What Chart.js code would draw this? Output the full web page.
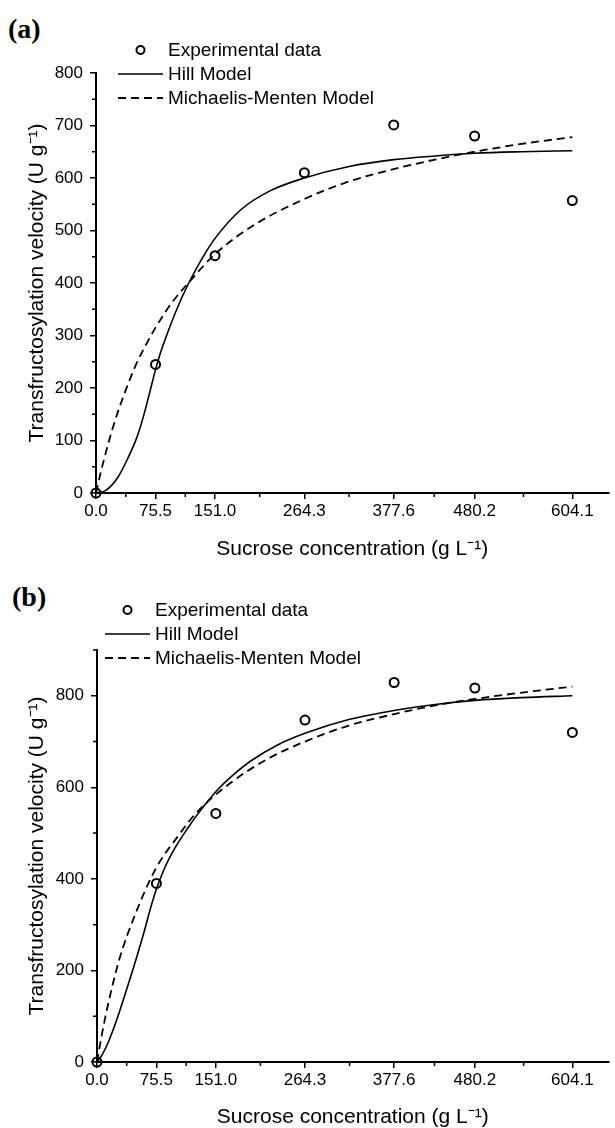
<!DOCTYPE html>
<html>
<head>
<meta charset="utf-8">
<script src="https://cdn.jsdelivr.net/npm/chart.js@4.4.1/dist/chart.umd.min.js"></script>
<style>
html,body{margin:0;padding:0;background:#fff;}
#wrap{position:relative;width:615px;height:1128px;overflow:hidden;}
canvas{position:absolute;left:0;}
#pa{top:0;}
#pb{top:564px;}
.tag{position:absolute;font:bold 28px "Liberation Serif","Times New Roman",serif;line-height:28px;color:#000;}
</style>
</head>
<body>
<div id="wrap">
  <div class="tag" style="left:8px;top:15px;">(a)</div>
  <canvas id="pa" width="615" height="564"></canvas>
  <div class="tag" style="left:12px;top:583px;">(b)</div>
  <canvas id="pb" width="615" height="564"></canvas>
</div>
<script>
// sucrose concentrations (g/L), also the x tick positions
const sucrose = [0, 75.5, 151.0, 264.3, 377.6, 480.2, 604.1];
const xTickLabels = ['0.0', '75.5', '151.0', '264.3', '377.6', '480.2', '604.1'];
const xMinor = [37.75, 113.25, 207.65, 320.95, 428.9, 542.15];

// panel (a)
const expA = [0, 245, 452, 610, 701, 680, 557];
const hillAx = [0, 12.5, 27, 40, 51.6, 60, 68.7, 75.5, 82, 90, 103, 117.6, 135, 151, 184, 220, 264.3, 321, 377.6, 430, 480.2, 540, 604.1];
const hillAy = [0, 5, 28, 65, 105, 145, 195, 235, 268, 302, 352, 400, 448, 485, 540, 575, 600, 622, 635, 642, 647, 650, 652];
const mmAx = [0, 6.6, 14.8, 25, 37, 50, 65, 75.5, 95, 120, 151, 200, 264.3, 320, 377.6, 430, 480.2, 540, 604.1];
const mmAy = [0, 43, 90, 142, 193, 242, 287, 315, 360, 405, 455, 510, 560, 593, 617, 635, 650, 665, 678];
const yTicksA = [0, 100, 200, 300, 400, 500, 600, 700, 800];
const yMinorA = [50, 150, 250, 350, 450, 550, 650, 750];

// panel (b)
const expB = [0, 390, 543, 747, 829, 817, 720];
const hillBx = [0, 7, 15, 25.6, 37, 48, 60, 68, 75.5, 85, 95, 102, 115, 125.6, 140, 155, 175, 195, 230, 264.3, 320, 377.6, 430, 480.2, 540, 604.1];
const hillBy = [0, 17, 46, 95, 155, 215, 285, 336, 378, 420, 455, 476, 510, 536, 568, 598, 630, 657, 693, 718, 748, 768, 781, 790, 796, 800];
const mmBx = [0, 6, 13.3, 28, 47.5, 75.5, 100.6, 125.6, 170, 220, 264.3, 320, 377.6, 430, 480.2, 540, 604.1];
const mmBy = [0, 58, 120, 222, 318, 425, 488, 543, 610, 665, 700, 735, 760, 779, 793, 807, 820];
const yTicksB = [0, 200, 400, 600, 800];
const yMinorB = [100, 300, 500, 700, 900];

Chart.defaults.font.family = '"Liberation Sans", Arial, sans-serif';
Chart.defaults.color = '#000';

const pts = (xs, ys) => xs.map((x, i) => ({x: x, y: ys[i]}));

// minor ticks + legend drawn on top of the library scales
const extras = {
  id: 'extras',
  afterDraw(chart, args, o) {
    const ctx = chart.ctx;
    const xs = chart.scales.x, ys = chart.scales.y;
    ctx.save();
    ctx.strokeStyle = '#000';
    ctx.lineWidth = 1.5;
    ctx.beginPath();
    o.xMinor.forEach(v => {
      const px = xs.getPixelForValue(v);
      ctx.moveTo(px, xs.top);
      ctx.lineTo(px, xs.top + 4);
    });
    o.yMinor.forEach(v => {
      const py = ys.getPixelForValue(v);
      ctx.moveTo(ys.right - 4, py);
      ctx.lineTo(ys.right, py);
    });
    ctx.stroke();

    ctx.font = '19px "Liberation Sans", Arial, sans-serif';
    ctx.fillStyle = '#000';
    ctx.textBaseline = 'middle';
    chart.data.datasets.forEach((ds, i) => {
      const y = o.legY + i * o.legGap;
      const x0 = o.legX, x1 = o.legX + 45;
      ctx.beginPath();
      if (ds.showLine === false) {
        ctx.lineWidth = 2;
        ctx.setLineDash([]);
        ctx.arc((x0 + x1) / 2, y, 4, 0, Math.PI * 2);
      } else {
        ctx.lineWidth = ds.borderWidth;
        ctx.setLineDash(ds.borderDash || []);
        ctx.moveTo(x0, y);
        ctx.lineTo(x1, y);
      }
      ctx.stroke();
      ctx.fillText(ds.label, x1 + 5, y + 1);
    });
    ctx.restore();
  }
};

function panel(id, p) {
  return new Chart(document.getElementById(id), {
    type: 'scatter',
    data: {
      datasets: [
        {
          label: 'Experimental data',
          data: pts(sucrose, p.exp),
          showLine: false,
          pointStyle: 'circle',
          pointRadius: 4.5,
          pointBorderWidth: 2,
          pointBorderColor: '#000',
          pointBackgroundColor: 'rgba(0,0,0,0)',
          clip: false
        },
        {
          label: 'Hill Model',
          data: pts(p.hillX, p.hillY),
          showLine: true,
          borderColor: '#000',
          borderWidth: 1.6,
          pointRadius: 0,
          cubicInterpolationMode: 'monotone',
          clip: false
        },
        {
          label: 'Michaelis-Menten Model',
          data: pts(p.mmX, p.mmY),
          showLine: true,
          borderColor: '#000',
          borderWidth: 1.8,
          borderDash: [8, 5],
          pointRadius: 0,
          cubicInterpolationMode: 'monotone',
          clip: false
        }
      ]
    },
    options: {
      responsive: false,
      animation: false,
      events: [],
      layout: {padding: {left: 0, right: p.padRight, top: p.top, bottom: 0}},
      plugins: {
        legend: {display: false},
        tooltip: {enabled: false},
        extras: {xMinor: xMinor, yMinor: p.yMinor, legX: p.legX, legY: p.legY, legGap: 24}
      },
      scales: {
        x: {
          type: 'linear',
          min: 0,
          max: 650,
          afterFit(s) { s.height = p.xH; },
          afterBuildTicks(s) { s.ticks = sucrose.map(v => ({value: v})); },
          ticks: {
            callback: (v, i) => xTickLabels[i],
            autoSkip: false,
            maxRotation: 0,
            padding: 2,
            font: {size: 17},
            color: '#000'
          },
          grid: {drawOnChartArea: false, drawTicks: true, tickLength: 6, lineWidth: 1.5, tickColor: '#000'},
          border: {color: '#000', width: 2},
          title: {
            display: true,
            text: 'Sucrose concentration (g L\u207B\u00B9)',
            font: {size: 21, lineHeight: 1},
            color: '#000',
            padding: {top: 0, bottom: p.xTitlePad}
          }
        },
        y: {
          min: 0,
          max: p.yMax,
          afterFit(s) { s.width = p.yW; },
          afterBuildTicks(s) { s.ticks = p.yTicks.map(v => ({value: v})); },
          ticks: {
            callback: v => String(v),
            padding: 7,
            font: {size: 17},
            color: '#000'
          },
          grid: {drawOnChartArea: false, drawTicks: true, tickLength: 6, lineWidth: 1.5, tickColor: '#000'},
          border: {color: '#000', width: 2},
          title: {
            display: true,
            text: 'Transfructosylation velocity (U g\u207B\u00B9)',
            font: {size: 21, lineHeight: 1},
            color: '#000',
            padding: {top: 26.5, bottom: 0}
          }
        }
      }
    },
    plugins: [extras]
  });
}

panel('pa', {
  exp: expA, hillX: hillAx, hillY: hillAy, mmX: mmAx, mmY: mmAy,
  yMax: 800, yTicks: yTicksA, yMinor: yMinorA,
  top: 73, padRight: 0, yW: 96, xH: 71, xTitlePad: 4.5,
  legX: 118, legY: 50
});

panel('pb', {
  exp: expB, hillX: hillBx, hillY: hillBy, mmX: mmBx, mmY: mmBy,
  yMax: 900, yTicks: yTicksB, yMinor: yMinorB,
  top: 86, padRight: 5, yW: 97, xH: 66, xTitlePad: 0,
  legX: 105, legY: 46
});
</script>
</body>
</html>
